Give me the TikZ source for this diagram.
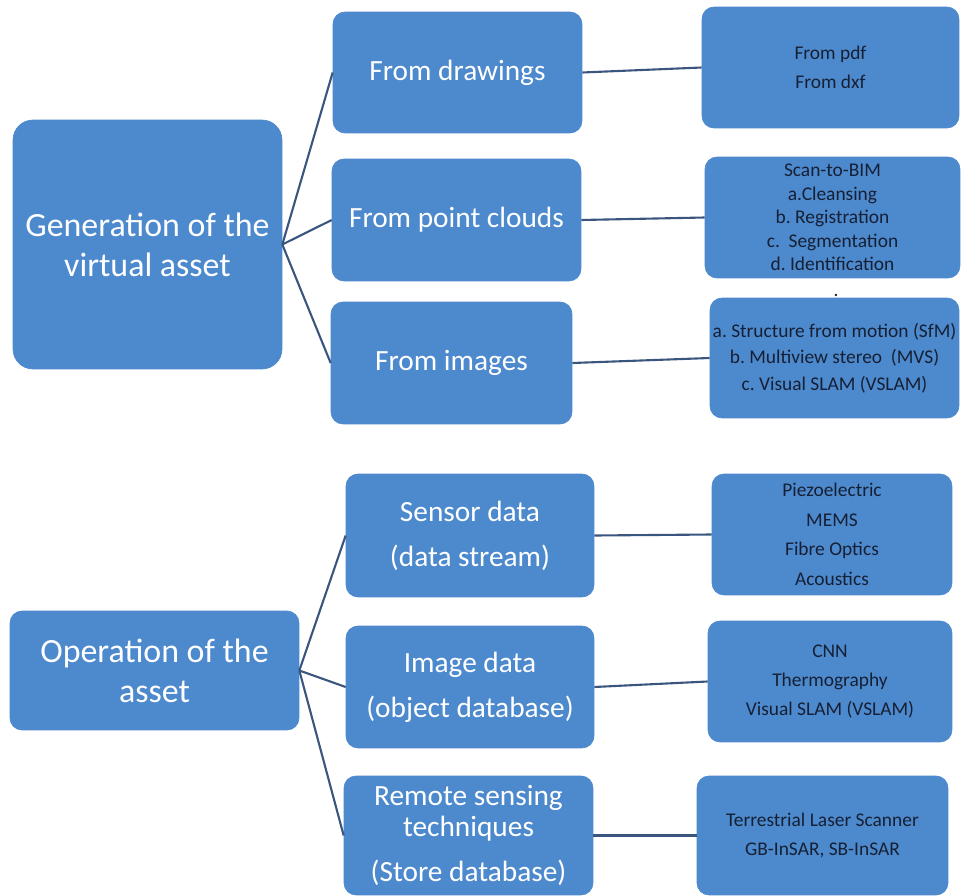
\documentclass[tikz,border=0pt]{standalone}
\usepackage{fontspec}
\setmainfont{Carlito}
\usetikzlibrary{positioning}
\frenchspacing

\definecolor{boxblue}{RGB}{77,137,205}
\definecolor{linkblue}{RGB}{58,86,126}
\definecolor{leaftext}{RGB}{22,32,52}

\tikzset{
    mainbox/.style={rectangle, rounded corners=0.4cm, fill=boxblue, draw=boxblue,
        text=white, align=center, inner sep=0pt,
        font=\fontsize{19.3}{22.7}\selectfont},
    midbox/.style={rectangle, rounded corners=0.24cm, fill=boxblue, draw=boxblue,
        text=white, align=center, inner sep=0pt,
        font=\fontsize{16.7}{25.5}\selectfont},
    leafbox/.style={rectangle, rounded corners=0.24cm, fill=boxblue, draw=boxblue,
        text=leaftext, align=center, inner sep=0pt,
        font=\fontsize{11.05}{16.4}\selectfont},
    link/.style={draw=linkblue, line width=1.2pt}
}

\begin{document}
\begin{tikzpicture}[x=0.02cm, y=-0.02cm]
    \useasboundingbox (0,0) rectangle (961,896);

    % Generation of the virtual asset
    \node (gen) at (147.5,244.5) [mainbox, minimum width=5.38cm, minimum height=4.98cm]
        {Generation of the\\virtual asset};
    \node (drawings) at (457.5,72.5) [midbox, minimum width=4.98cm, minimum height=2.42cm] {From drawings};
    \node (clouds) at (456.5,220) [midbox, minimum width=4.98cm, minimum height=2.44cm] {From point clouds};
    \node (images) at (451.5,363) [midbox, minimum width=4.82cm, minimum height=2.44cm] {From images};

    \node (pdf) at (830.5,67.5) [leafbox, minimum width=5.14cm, minimum height=2.42cm]
        {From pdf\\From dxf};
    \node (scan) at (832.5,217.5) [leafbox, minimum width=5.10cm, minimum height=2.42cm,
        font=\fontsize{11.05}{13.3}\selectfont]
        {Scan-to-BIM\\a.Cleansing\\b. Registration\\c.\ \ Segmentation\\d. Identification};
    \node (dot) at (836,295) [inner sep=0pt, text=leaftext, font=\fontsize{11.05}{13}\selectfont] {.};
    \node (sfm) at (834.5,358) [leafbox, minimum width=4.98cm, minimum height=2.40cm,
        font=\fontsize{11.05}{15}\selectfont]
        {a. Structure from motion (SfM)\\b. Multiview stereo\ \ (MVS)\\c. Visual SLAM (VSLAM)};

    % Operation of the asset
    \node (oper) at (154.5,670.5) [mainbox, rounded corners=0.24cm, minimum width=5.78cm, minimum height=2.38cm]
        {Operation of the\\asset};
    \node (sensor) at (470,535.5) [midbox, minimum width=4.96cm, minimum height=2.46cm]
        {Sensor data\\(data stream)};
    \node (imgdata) at (470,687) [midbox, minimum width=4.96cm, minimum height=2.44cm]
        {Image data\\(object database)};
    \node (remote) at (468.5,835.5) [midbox, minimum width=4.98cm, minimum height=2.38cm,
        font=\fontsize{16.7}{17.6}\selectfont]
        {Remote sensing\\techniques\\[7.9pt](Store database)};

    \node (piezo) at (832,534.5) [leafbox, minimum width=4.80cm, minimum height=2.42cm,
        font=\fontsize{11.05}{16.8}\selectfont]
        {Piezoelectric\\MEMS\\Fibre Optics\\Acoustics};
    \node (cnn) at (830,681.5) [leafbox, minimum width=4.88cm, minimum height=2.42cm]
        {CNN\\Thermography\\Visual SLAM (VSLAM)};
    \node (tls) at (822.5,835.5) [leafbox, minimum width=5.02cm, minimum height=2.38cm,
        font=\fontsize{11.05}{17}\selectfont]
        {Terrestrial Laser Scanner\\GB-InSAR, SB-InSAR};

    % Connectors
    \foreach \m in {drawings, clouds, images}
        \draw[link] (gen.east) -- (\m.west);
    \foreach \m in {sensor, imgdata, remote}
        \draw[link] (oper.east) -- (\m.west);
    \draw[link] (drawings.east) -- (pdf.west);
    \draw[link] (clouds.east) -- (scan.west);
    \draw[link] (images.east) -- (sfm.west);
    \draw[link] (sensor.east) -- (piezo.west);
    \draw[link] (imgdata.east) -- (cnn.west);
    \draw[link] (remote.east) -- (tls.west);
\end{tikzpicture}
\end{document}
